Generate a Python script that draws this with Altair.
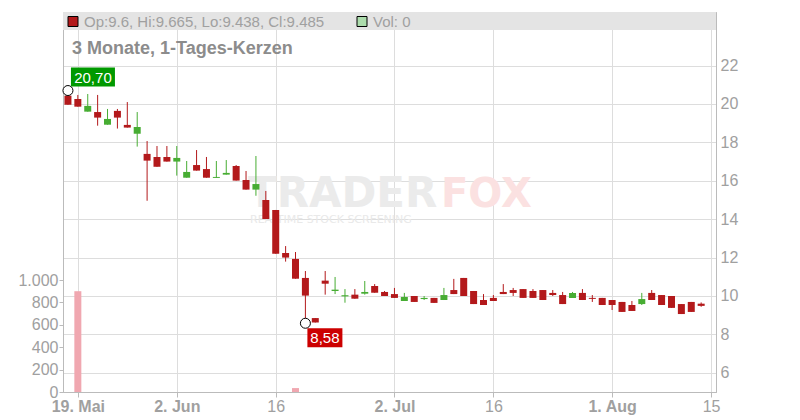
import altair as alt
import pandas as pd

# ---- data (trading-day index 0 = 16 May 2025) ----
opens = [20.43, 20.26, 19.60, 19.58, 18.92, 19.64, 18.91, 18.45, 17.40, 17.24,
         17.24, 17.00, 16.16, 16.82, 16.61, 16.15, 16.32, 16.77, 16.04, 15.54,
         15.00, 14.48, 12.24, 11.93, 10.94, 8.85, 10.80, 10.26, 9.98, 10.07,
         10.12, 10.52, 10.21, 10.10, 9.74, 10.00, 9.84, 9.90, 9.79, 10.31,
         10.94, 10.26, 9.79, 9.90, 10.21, 10.31, 10.36, 10.26, 10.31, 10.16,
         10.05, 9.90, 10.16, 9.90, 9.90, 9.79, 9.69, 9.53, 9.58, 10.16,
         10.05, 10.00, 9.58, 9.69, 9.6]
highs = [20.70, 20.47, 20.52, 20.47, 19.74, 19.74, 20.10, 19.58, 18.07, 17.81,
         17.81, 17.81, 17.03, 17.60, 17.24, 17.03, 17.08, 16.82, 16.51, 17.29,
         15.47, 14.48, 12.60, 12.29, 11.30, 8.85, 11.30, 10.99, 10.36, 10.36,
         10.78, 10.62, 10.26, 10.42, 10.16, 10.00, 10.00, 9.90, 10.42, 10.89,
         10.94, 10.26, 10.10, 10.05, 10.62, 10.42, 10.36, 10.36, 10.31, 10.31,
         10.21, 10.21, 10.36, 10.05, 9.90, 9.79, 9.69, 9.74, 10.16, 10.31,
         10.05, 10.00, 9.58, 9.69, 9.665]
lows = [19.96, 19.86, 19.60, 18.87, 18.92, 18.72, 18.77, 17.78, 14.96, 16.73,
        17.00, 16.27, 16.16, 16.53, 16.16, 16.15, 16.32, 16.01, 15.54, 15.22,
        14.01, 12.20, 11.79, 10.90, 8.58, 8.62, 10.07, 10.10, 9.65, 9.86,
        10.07, 10.17, 10.00, 9.90, 9.74, 9.69, 9.79, 9.64, 9.79, 10.10,
        10.00, 9.58, 9.53, 9.74, 10.10, 10.00, 9.90, 9.90, 9.79, 10.00,
        9.58, 9.90, 9.79, 9.69, 9.53, 9.27, 9.17, 9.22, 9.53, 9.79,
        9.53, 9.38, 9.06, 9.17, 9.438]
closes = [19.96, 19.86, 19.90, 19.29, 19.22, 19.29, 18.77, 18.80, 17.05, 16.73,
          17.00, 17.19, 16.46, 16.53, 16.16, 16.20, 16.41, 16.01, 15.54, 15.83,
          14.01, 12.20, 12.00, 10.90, 10.02, 8.62, 10.64, 10.33, 10.04, 9.86,
          10.21, 10.17, 10.00, 9.90, 9.95, 9.69, 9.90, 9.64, 10.05, 10.10,
          10.00, 9.58, 9.53, 9.74, 10.10, 10.16, 9.90, 9.90, 9.79, 10.05,
          9.58, 10.16, 9.79, 9.85, 9.53, 9.53, 9.17, 9.22, 9.84, 9.79,
          9.53, 9.38, 9.06, 9.17, 9.485]
volumes = [0, 900, 0, 0, 0, 0, 0, 0, 0, 0,
           0, 0, 0, 0, 0, 0, 0, 0, 0, 0,
           0, 0, 0, 35, 0, 0, 0, 0, 0, 0,
           0, 0, 0, 0, 0, 0, 0, 0, 0, 0,
           0, 0, 0, 0, 0, 0, 0, 0, 0, 0,
           0, 0, 0, 0, 0, 0, 0, 0, 0, 0,
           0, 0, 0, 0, 0]

tick_idx = [1, 11, 21, 33, 43, 55, 65]
tick_labels = ["19. Mai", "2. Jun", "16", "2. Jul", "16", "1. Aug", "15"]
bold_ticks = [1, 11, 33, 55]
price_ticks = [6, 8, 10, 12, 14, 16, 18, 20, 22]
vol_ticks = [0, 200, 400, 600, 800, 1000]
title_text = "3 Monate, 1-Tages-Kerzen"

# ---- styling ----
W, H = 653, 380
RED = "#b3191b"
GREEN = "#47ad33"
GRAY_TXT = "#a0a0a0"
FONT = "Liberation Sans"

n = len(opens)
df = pd.DataFrame({
    "idx": list(range(n)),
    "open": opens, "high": highs, "low": lows, "close": closes, "vol": volumes,
})
df["top"] = df[["open", "close"]].max(axis=1)
df["bot"] = df[["open", "close"]].min(axis=1)
df["dir"] = ["up" if c >= o else "down" for o, c in zip(opens, closes)]

hi_i = int(df["high"].idxmax())
lo_i = int(df["low"].idxmin())
hi_df = pd.DataFrame({"idx": [hi_i], "v": [highs[hi_i]],
                      "t": [f"{highs[hi_i]:.2f}".replace(".", ",")]})
lo_df = pd.DataFrame({"idx": [lo_i], "v": [lows[lo_i]],
                      "t": [f"{lows[lo_i]:.2f}".replace(".", ",")]})

label_expr = " : ".join(f"datum.value == {i} ? '{l}'" for i, l in zip(tick_idx, tick_labels)) + " : ''"
x_axis = alt.Axis(values=tick_idx, labelExpr=label_expr, grid=True, gridColor="#dddddd",
                  tickSize=5, tickColor="#bbbbbb", domainColor="#bbbbbb", labelPadding=1,
                  labelFlush=False, labelOverlap=False, labelFontSize=16, labelColor=GRAY_TXT,
                  labelFont=FONT, title=None,
                  labelFontWeight={"condition": {"test": f"indexof({bold_ticks}, datum.value) >= 0",
                                                 "value": "bold"}, "value": "normal"})
x_scale = alt.Scale(domain=[-0.5, n + 0.5], nice=False, zero=False, padding=0)
X = alt.X("idx:Q", scale=x_scale, axis=x_axis)

p_scale = alt.Scale(domain=[5.0, 24.79], nice=False, zero=False)
p_axis = alt.Axis(orient="right", values=price_ticks, grid=True, gridColor="#dddddd",
                  ticks=False, labelPadding=4, domainColor="#bbbbbb", labelFontSize=16,
                  labelColor=GRAY_TXT, labelFont=FONT, title=None, labelFlush=False)

v_axis = alt.Axis(orient="left", values=vol_ticks, grid=False, tickSize=4, tickColor="#bbbbbb",
                  labelPadding=1, domainColor="#bbbbbb", labelFontSize=16, labelColor=GRAY_TXT,
                  labelFont=FONT, title=None, labelFlush=False,
                  labelExpr="replace(format(datum.value, ','), ',', '.')")

base = alt.Chart(df)

vol = base.mark_bar(size=7, color="#f0a7b0").encode(
    x=X, y=alt.Y("vol:Q", scale=alt.Scale(domain=[0, 3393], nice=False), axis=v_axis))

dummy = pd.DataFrame({"a": [0]})
band = alt.Chart(dummy).mark_rect(color="#e4e4e4").encode(
    x=alt.value(0), x2=alt.value(W), y=alt.value(0), y2=alt.value(18))

wm1 = alt.Chart(dummy).mark_text(text="TRADER", font="DejaVu Sans", fontWeight="bold",
                                 fontSize=42, align="left", baseline="alphabetic",
                                 color="#ebebeb").encode(x=alt.value(185), y=alt.value(195))
wm2 = alt.Chart(dummy).mark_text(text="FOX", font="DejaVu Sans", fontWeight="bold",
                                 fontSize=40, align="left", baseline="alphabetic",
                                 color="#fbe1e1").encode(x=alt.value(378), y=alt.value(195))
wm3 = alt.Chart(dummy).mark_text(text="REALTIME STOCK SCREENING", font="DejaVu Sans",
                                 fontSize=11, align="left", baseline="alphabetic",
                                 color="#e9e9e9").encode(x=alt.value(187), y=alt.value(211))

color = alt.Color("dir:N", scale=alt.Scale(domain=["up", "down"], range=[GREEN, RED]), legend=None)
wicks = base.mark_rule(strokeWidth=1).encode(
    x=X, y=alt.Y("low:Q", scale=p_scale, axis=p_axis), y2="high:Q", color=color)
bodies = base.mark_bar(size=7).encode(
    x=X, y=alt.Y("top:Q", scale=p_scale, axis=p_axis), y2="bot:Q", color=color)

def marker(d):
    return alt.Chart(d).mark_point(shape="circle", size=100, filled=False, fill="white",
                                   fillOpacity=1, stroke="black", strokeWidth=1, opacity=1).encode(
        x=X, y=alt.Y("v:Q", scale=p_scale, axis=p_axis))

hi_box = alt.Chart(hi_df).mark_rect(color="#009900", xOffset=3, x2Offset=47,
                                    yOffset=-23, y2Offset=-4).encode(
    x=X, x2="idx:Q", y=alt.Y("v:Q", scale=p_scale, axis=p_axis), y2="v:Q")
hi_txt = alt.Chart(hi_df).mark_text(color="white", fontSize=15, font=FONT, dx=25, dy=-13,
                                    baseline="middle", align="center").encode(
    x=X, y=alt.Y("v:Q", scale=p_scale, axis=p_axis), text="t:N")
lo_box = alt.Chart(lo_df).mark_rect(color="#cc0000", xOffset=2, x2Offset=37,
                                    yOffset=5, y2Offset=24).encode(
    x=X, x2="idx:Q", y=alt.Y("v:Q", scale=p_scale, axis=p_axis), y2="v:Q")
lo_txt = alt.Chart(lo_df).mark_text(color="white", fontSize=15, font=FONT, dx=19.5, dy=15,
                                    baseline="middle", align="center").encode(
    x=X, y=alt.Y("v:Q", scale=p_scale, axis=p_axis), text="t:N")

title = alt.Chart(dummy).mark_text(text=title_text, font=FONT, fontWeight="bold", fontSize=18,
                                   align="left", baseline="alphabetic", color="#8c8c8c").encode(
    x=alt.value(9), y=alt.value(42))

leg_str = f"Op:{opens[-1]}, Hi:{highs[-1]}, Lo:{lows[-1]}, Cl:{closes[-1]}"
leg_sq1 = alt.Chart(dummy).mark_rect(fill=RED, stroke="black", strokeWidth=1).encode(
    x=alt.value(5), x2=alt.value(15), y=alt.value(4.5), y2=alt.value(14.5))
leg_t1 = alt.Chart(dummy).mark_text(text=leg_str, font=FONT, fontSize=15, align="left",
                                    baseline="alphabetic", color=GRAY_TXT).encode(
    x=alt.value(21), y=alt.value(14.5))
leg_sq2 = alt.Chart(dummy).mark_rect(fill="#acdcac", stroke="black", strokeWidth=1).encode(
    x=alt.value(294), x2=alt.value(304), y=alt.value(4.5), y2=alt.value(14.5))
leg_t2 = alt.Chart(dummy).mark_text(text=f"Vol: {volumes[-1]}", font=FONT, fontSize=15,
                                    align="left", baseline="alphabetic", color=GRAY_TXT).encode(
    x=alt.value(310), y=alt.value(14.5))

price_group = alt.layer(band, wm1, wm2, wm3, wicks, bodies, marker(hi_df), marker(lo_df),
                        hi_box, hi_txt, lo_box, lo_txt, title, leg_sq1, leg_t1, leg_sq2, leg_t2)

chart = alt.layer(vol, price_group).resolve_scale(y="independent").properties(
    width=W, height=H,
    padding={"left": 55, "top": 4, "right": 60, "bottom": 24},
    autosize=alt.AutoSizeParams(type="none"),
    background="white",
).configure_view(stroke="#bbbbbb", strokeWidth=1)

chart.save("out.html", embed_options={"renderer": "svg", "actions": False})
